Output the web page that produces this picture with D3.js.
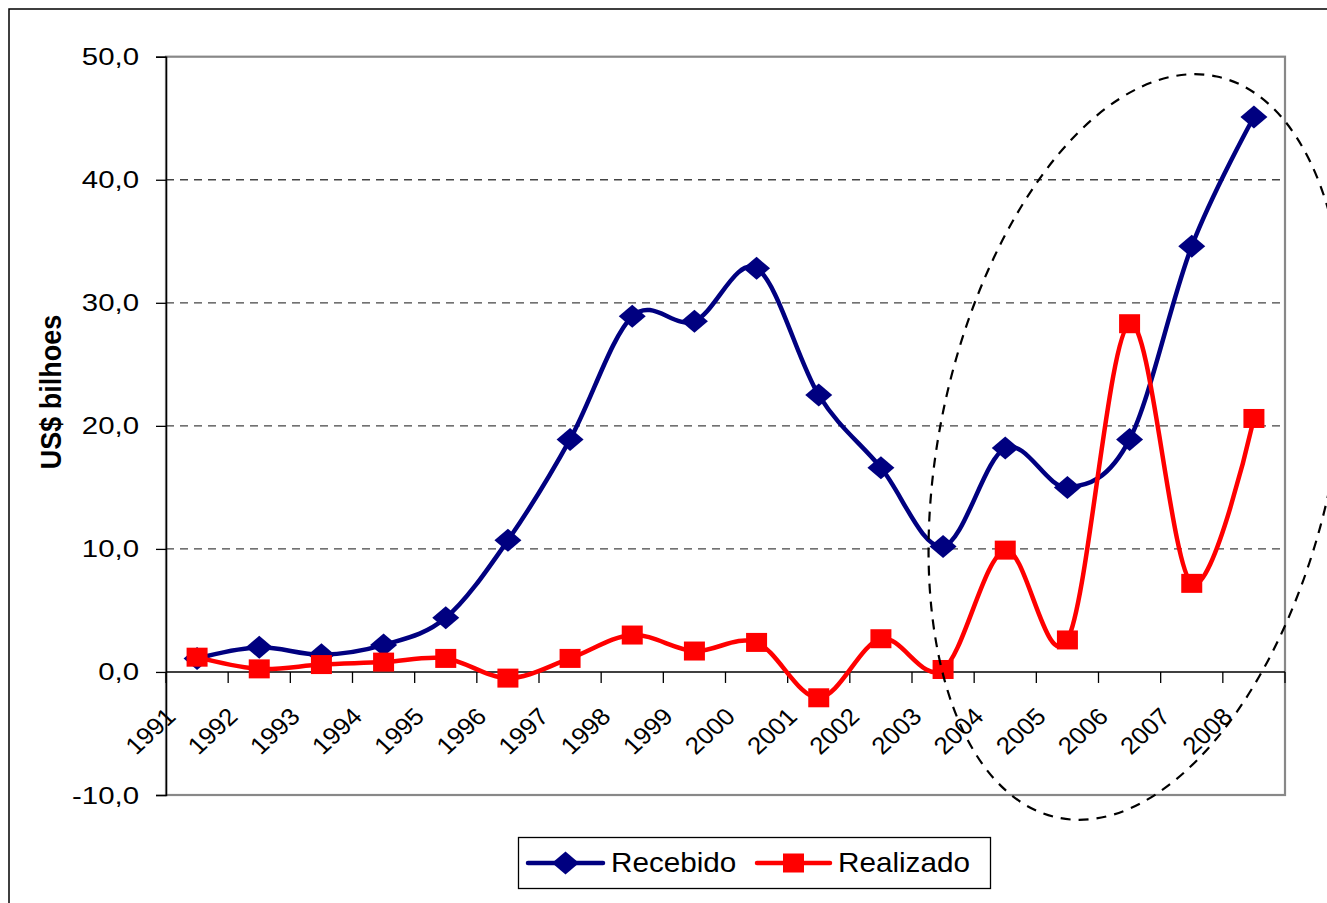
<!DOCTYPE html>
<html>
<head>
<meta charset="utf-8">
<script src="https://cdn.jsdelivr.net/npm/d3@7/dist/d3.min.js"></script>
<style>
  body { margin: 0; background: #fff; }
  svg { display: block; font-family: "Liberation Sans", Arial, sans-serif; }
</style>
</head>
<body>
<svg id="chart" width="1327" height="903"></svg>
<script>
// chart data (US$ bilhoes)
var years = ["1991","1992","1993","1994","1995","1996","1997","1998","1999",
             "2000","2001","2002","2003","2004","2005","2006","2007","2008"];
var recebido  = [1.1, 2.0, 1.4, 2.2, 4.4, 10.7, 18.9, 28.9, 28.5,
                 32.8, 22.5, 16.6, 10.2, 18.2, 15.0, 18.9, 34.6, 45.1];
var realizado = [1.2, 0.25, 0.6, 0.8, 1.1, -0.5, 1.1, 3.0, 1.7,
                 2.4, -2.1, 2.7, 0.2, 9.9, 2.6, 28.3, 7.2, 20.6];
var yTicks = [-10, 0, 10, 20, 30, 40, 50];
var seriesNames = ["Recebido", "Realizado"];

var svg = d3.select("#chart");
var plot = {left: 166, top: 56.7, right: 1285, bottom: 795};

var x = d3.scaleBand().domain(years).range([plot.left, plot.right]);
var y = d3.scaleLinear().domain([-10, 50]).range([plot.bottom, plot.top]);
var cx = function(d, i) { return x(years[i]) + x.bandwidth() / 2; };
var fmt = function(v) { return v.toFixed(1).replace(".", ","); };

// outer frame
svg.append("rect")
    .attr("x", 9).attr("y", 9).attr("width", 1400).attr("height", 1000)
    .attr("fill", "none").attr("stroke", "#000").attr("stroke-width", 1.5);

// gridlines
svg.append("g").selectAll("line")
    .data(yTicks.filter(function(d) { return d > 0 && d < 50; }))
    .enter().append("line")
    .attr("x1", plot.left).attr("x2", plot.right)
    .attr("y1", function(d) { return y(d); }).attr("y2", function(d) { return y(d); })
    .attr("stroke", "#444").attr("stroke-width", 1.3).attr("stroke-dasharray", "8,6");

// plot area border
svg.append("rect")
    .attr("x", plot.left).attr("y", plot.top)
    .attr("width", plot.right - plot.left).attr("height", plot.bottom - plot.top)
    .attr("fill", "none").attr("stroke", "#888").attr("stroke-width", 2.2);

// y axis
var yAxis = svg.append("g")
    .attr("transform", "translate(" + plot.left + ",0)")
    .call(d3.axisLeft(y).tickValues(yTicks).tickSize(10).tickFormat(fmt));
yAxis.select(".domain").attr("stroke", "#000").attr("stroke-width", 1.5);
yAxis.selectAll(".tick line").attr("stroke", "#000").attr("stroke-width", 1.3);
yAxis.selectAll(".tick text")
    .attr("x", 0).attr("dy", null)
    .attr("transform", "translate(-27,8) scale(1.25,1)")
    .attr("font-size", 23.5).attr("fill", "#000")
    .attr("font-family", "Liberation Sans, Arial, sans-serif");

// x axis on zero line, ticks on category boundaries
var zeroY = y(0);
svg.append("line")
    .attr("x1", plot.left).attr("x2", plot.right)
    .attr("y1", zeroY).attr("y2", zeroY)
    .attr("stroke", "#000").attr("stroke-width", 1.5);
var bounds = years.map(function(d) { return x(d); }).concat([plot.right]);
svg.append("g").selectAll("line")
    .data(bounds).enter().append("line")
    .attr("x1", function(d) { return d; }).attr("x2", function(d) { return d; })
    .attr("y1", zeroY).attr("y2", zeroY + 11)
    .attr("stroke", "#000").attr("stroke-width", 1.3);

svg.append("g").selectAll("text")
    .data(years).enter().append("text")
    .attr("transform", function(d, i) {
      return "translate(" + (cx(d, i) - 20) + ",718) scale(1.08,1) rotate(-45)";
    })
    .attr("text-anchor", "end")
    .attr("font-size", 24)
    .text(function(d) { return d; });

// y axis title
svg.append("text")
    .attr("transform", "translate(61,392) scale(1.1,1) rotate(-90)")
    .attr("text-anchor", "middle")
    .attr("font-size", 27).attr("font-weight", "bold")
    .text("US$ bilhoes");

// series
var line = d3.line()
    .x(cx)
    .y(function(d) { return y(d); })
    .curve(d3.curveCatmullRom.alpha(0));

var diamond = "M0,-11.5L13.5,0L0,11.5L-13.5,0Z";

svg.append("path")
    .datum(recebido)
    .attr("d", line)
    .attr("fill", "none").attr("stroke", "#000080").attr("stroke-width", 4.5)
    .attr("stroke-linejoin", "round");
svg.append("g").selectAll("path")
    .data(recebido).enter().append("path")
    .attr("d", diamond)
    .attr("transform", function(d, i) { return "translate(" + cx(d, i) + "," + y(d) + ")"; })
    .attr("fill", "#000080");

svg.append("path")
    .datum(realizado)
    .attr("d", line)
    .attr("fill", "none").attr("stroke", "#ff0000").attr("stroke-width", 4.5)
    .attr("stroke-linejoin", "round");
svg.append("g").selectAll("rect")
    .data(realizado).enter().append("rect")
    .attr("x", function(d, i) { return cx(d, i) - 10.5; })
    .attr("y", function(d) { return y(d) - 9.5; })
    .attr("width", 21).attr("height", 19)
    .attr("fill", "#ff0000");

// dashed ellipse highlighting 2004-2008
svg.append("ellipse")
    .attr("cx", 1137).attr("cy", 447).attr("rx", 197).attr("ry", 379)
    .attr("transform", "rotate(12.15,1137,447)")
    .attr("fill", "none").attr("stroke", "#000").attr("stroke-width", 2.2)
    .attr("stroke-dasharray", "10,8");

// legend
var legend = svg.append("g");
legend.append("rect")
    .attr("x", 518.5).attr("y", 837.5).attr("width", 472).attr("height", 51)
    .attr("fill", "#fff").attr("stroke", "#000").attr("stroke-width", 1.3);

var legItems = [
  {name: seriesNames[0], color: "#000080", x1: 528, x2: 603, tx: 611},
  {name: seriesNames[1], color: "#ff0000", x1: 757, x2: 830, tx: 838}
];
var li = legend.selectAll(".item").data(legItems).enter().append("g").attr("class", "item");
li.append("line")
    .attr("x1", function(d) { return d.x1; }).attr("x2", function(d) { return d.x2; })
    .attr("y1", 863).attr("y2", 863)
    .attr("stroke", function(d) { return d.color; }).attr("stroke-width", 4.5)
    .attr("stroke-linecap", "round");
li.filter(function(d, i) { return i === 0; }).append("path")
    .attr("d", diamond)
    .attr("transform", function(d) { return "translate(" + (d.x1 + d.x2) / 2 + ",863)"; })
    .attr("fill", function(d) { return d.color; });
li.filter(function(d, i) { return i === 1; }).append("rect")
    .attr("x", function(d) { return (d.x1 + d.x2) / 2 - 10.5; }).attr("y", 853.5)
    .attr("width", 21).attr("height", 19)
    .attr("fill", function(d) { return d.color; });
li.append("text")
    .attr("transform", function(d) { return "translate(" + d.tx + ",872) scale(1.06,1)"; })
    .attr("font-size", 28)
    .text(function(d) { return d.name; });
</script>
</body>
</html>
